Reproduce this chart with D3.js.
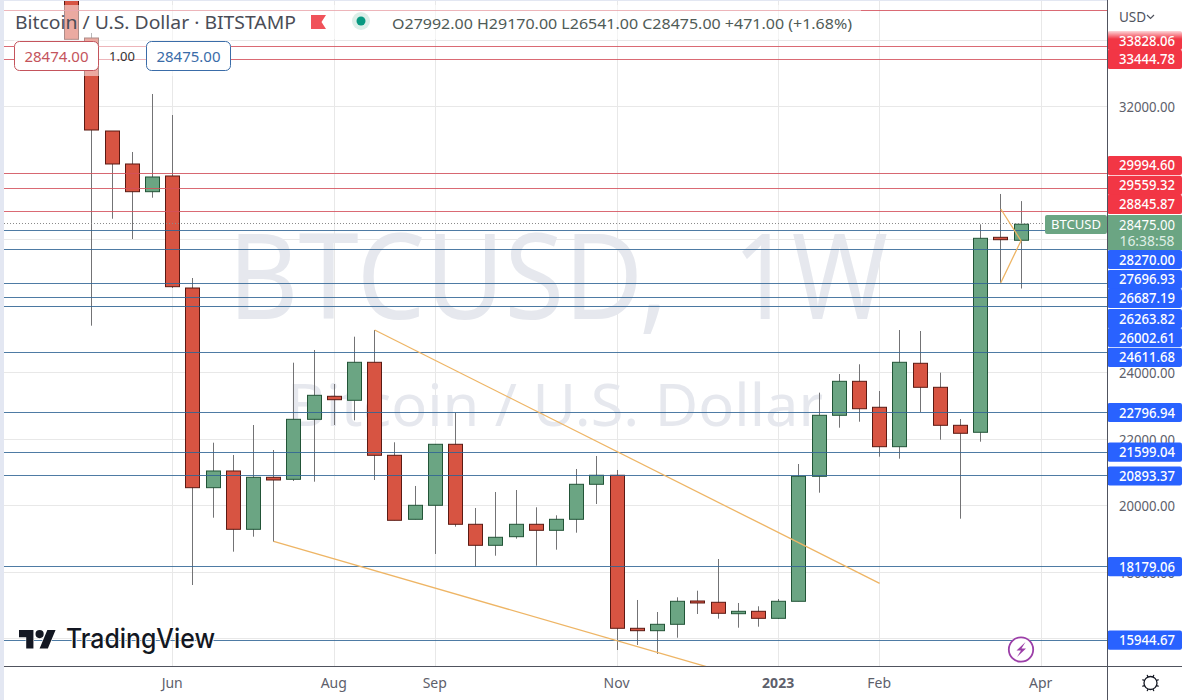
<!DOCTYPE html>
<html><head><meta charset="utf-8">
<script src="https://cdn.jsdelivr.net/npm/d3@7"></script>
<style>html,body{margin:0;padding:0;background:#fff;overflow:hidden}svg{display:block}text{font-family:"Noto Sans",sans-serif}</style>
</head><body><svg id="c" width="1182" height="700"></svg>
<script>
// weekly candles, May 2022 to Mar 2023
const opens  = [35700,34075,31278,30286,29453,29925,26556,20551,21053,19299,20863,20803,22607,23299,23179,24322,21525,19600,20021,21856,19450,18818,19077,19450,19269,19600,20653,20924,16322,16250,16442,17143,17104,16761,16833,16622,17134,20893,22728,23750,22969,21784,24292,23570,22427,22217,28081,27992];
const highs  = [36000,34226,31278,30647,32391,31759,26857,21904,21534,22436,21684,24310,24692,23669,25092,25293,21916,20602,21865,22806,19940,20421,20481,19961,19720,21113,21504,21083,17173,16812,17254,17453,18406,17083,16984,17203,21263,23408,23970,24262,23459,25293,25263,24009,22617,28472,29384,29170];
const lows   = [34036,25423,28640,28030,29272,26556,17624,19648,18626,19077,18926,20752,20731,22436,22577,20782,19570,19600,18557,19378,18175,18505,19017,18205,18686,19197,20060,15669,15820,15549,16039,16752,16611,16340,16370,16602,17134,20400,22355,22535,21483,21423,22827,21994,19618,21934,26716,26541];
const closes = [34036,31308,30286,29453,29895,26596,20551,21053,19299,20863,20782,22607,23329,23197,24322,21525,19570,20021,21856,19450,18818,19059,19450,19269,19600,20653,20924,16322,16250,16442,17134,17083,16773,16833,16622,17134,20893,22728,23750,22926,21784,24322,23570,22427,22187,28051,28009,28475];

const gridPrices = [16000,18000,20000,22000,24000,26000,28000,30000,32000,34000];
const priceTicks = [18000,20000,22000,24000,32000];
const monthIdx   = [5,13,18,27,35,40,48];
const monthNames = ["Jun","Aug","Sep","Nov","2023","Feb","Apr"];

const resistance = [33828.06,33444.78,29994.60,29559.32,28845.87];
const support    = [28270.00,27696.93,26687.19,26263.82,26002.61,24611.68,22796.94,21599.04,20893.37,18179.06,15944.67];
const untaggedResistance = [34914];
const resistanceTagShift = [-5.7,0.5,-8.2,-2.7,-7.4];
const supportTagShift    = [28.5,29.4,14.8,20.8,31.1,4.8,-0.5,-0.8,-0.3,0,-0.8];

const lastPrice = 28475, countdown = "16:38:58";
const trendIdx1 = [10,32], trendVal1 = [18938,15068];
const trendIdx2 = [15,40], trendVal2 = [25293,17675];
const wedgeIdx  = [46,47,46], wedgeVal = [28932,27979,26716];

const UP="#6ba583",DOWN="#d75442",UPB="#225437",DOWNB="#5b1a13",WICK="#737375";
const RED="#f23645",BLUE="#2962ff",LRED="#d4505c",LBLUE="#2f6494",GOLD="#eeb565";
const PL=4,PR=1107.5,PB=666.5;

const svg=d3.select("#c");
const x=d3.scaleLinear().domain([0,47]).range([71.7,1021]);
const y=d3.scaleLinear().domain([15000,35000]).range([672.25,7.25]);
const crisp=v=>Math.round(v-0.5)+0.5;
const crispY=v=>crisp(v-0.3);
const snapRed=v=>Math.floor(v+0.05)+0.5;

svg.append("rect").attr("width",1182).attr("height",700).attr("fill","#fff");
svg.append("rect").attr("width",PL).attr("height",700).attr("fill","#e3e7f2");
svg.append("rect").attr("width",1182).attr("height",1).attr("fill","#e3e7f2");
const defs=svg.append("defs");
defs.append("clipPath").attr("id","plot").append("rect").attr("x",PL).attr("y",1).attr("width",PR-PL).attr("height",PB-1);
const fade=defs.append("linearGradient").attr("id","fade").attr("x1",0).attr("x2",0).attr("y1",0).attr("y2",1);
fade.append("stop").attr("offset",0).attr("stop-color","#fff").attr("stop-opacity",1);
fade.append("stop").attr("offset",1).attr("stop-color","#fff").attr("stop-opacity",0);

const plot=svg.append("g").attr("clip-path","url(#plot)");
// grid
plot.append("g").selectAll("line").data(gridPrices).join("line")
 .attr("x1",PL).attr("x2",PR).attr("y1",d=>crispY(y(d))).attr("y2",d=>crispY(y(d))).attr("stroke","#e8e8e8");
plot.append("g").selectAll("line").data(monthIdx).join("line")
 .attr("x1",d=>crisp(x(d))).attr("x2",d=>crisp(x(d))).attr("y1",0).attr("y2",PB).attr("stroke","#e8e8e8");
// watermark
const wm=plot.append("text").attr("y",319).attr("font-size",118).attr("fill","#e6e8ee");
wm.append("tspan").attr("x",228).attr("textLength",440).attr("lengthAdjust","spacingAndGlyphs").text("BTCUSD,");
wm.append("tspan").text(" ").attr("font-size",10);
wm.append("tspan").attr("x",733).attr("textLength",155).attr("lengthAdjust","spacingAndGlyphs").text("1W");
plot.append("text").attr("x",555).attr("y",426).attr("text-anchor","middle").attr("font-size",58).attr("fill","#e6e8ee").attr("textLength",536).attr("lengthAdjust","spacingAndGlyphs").text("Bitcoin / U.S. Dollar");
// candles
const idx=d3.range(opens.length);
const cg=plot.append("g");
cg.selectAll("line").data(idx).join("line")
 .attr("x1",i=>crisp(x(i))).attr("x2",i=>crisp(x(i))).attr("y1",i=>y(highs[i])).attr("y2",i=>y(lows[i])).attr("stroke",WICK).attr("stroke-width",1);
cg.selectAll("rect").data(idx).join("rect")
 .attr("x",i=>crisp(x(i))-7).attr("width",14)
 .attr("y",i=>y(Math.max(opens[i],closes[i])))
 .attr("height",i=>Math.max(1.5,Math.abs(y(opens[i])-y(closes[i]))))
 .attr("fill",i=>closes[i]>=opens[i]?UP:DOWN)
 .attr("stroke",i=>closes[i]>=opens[i]?UPB:DOWNB).attr("stroke-width",1);
// levels
const hl=(vals,col,snap)=>plot.append("g").selectAll("line").data(vals).join("line")
 .attr("x1",PL).attr("x2",PR).attr("y1",d=>snap(y(d))).attr("y2",d=>snap(y(d))).attr("stroke",col).attr("stroke-opacity",.85);
hl(untaggedResistance,LRED,snapRed);hl(resistance,LRED,snapRed);hl(support,LBLUE,crispY);
plot.append("line").attr("x1",PL).attr("x2",1045).attr("y1",crispY(y(lastPrice))).attr("y2",crispY(y(lastPrice))).attr("stroke","#8a8a8a").attr("stroke-dasharray","1 2");
// trend lines
const ln=d3.line().x(d=>x(d[0])).y(d=>y(d[1]));
[[trendIdx1,trendVal1],[trendIdx2,trendVal2],[wedgeIdx,wedgeVal]].forEach(([a,b])=>{
 plot.append("path").attr("d",ln(d3.zip(a,b))).attr("fill","none").attr("stroke",GOLD).attr("stroke-width",1.3);
});
// legend veils
svg.append("rect").attr("x",PL).attr("y",5).attr("width",857).attr("height",34).attr("fill","#fff").attr("fill-opacity",.5);
svg.append("rect").attr("x",14).attr("y",39).attr("width",217).attr("height",37).attr("fill","#fff").attr("fill-opacity",.5);
// legend text
const T=(xx,yy,s,size,col,extra={})=>{const t=svg.append("text").attr("x",xx).attr("y",yy).attr("font-size",size).attr("fill",col).text(s);Object.entries(extra).forEach(([k,v])=>t.attr(k,v));return t;};
T(15,29,"Bitcoin / U.S. Dollar · BITSTAMP",18,"#4a4d57",{textLength:281,lengthAdjust:"spacingAndGlyphs"});
svg.append("path").attr("d","M311 15h15l-4.5 7 4.5 7h-15z").attr("fill","#f0525a");
svg.append("circle").attr("cx",361).attr("cy",21).attr("r",9).attr("fill","#dcefe9");
svg.append("circle").attr("cx",361).attr("cy",21).attr("r",4.5).attr("fill","#089981");
T(392,29,"O27992.00  H29170.00  L26541.00  C28475.00  +471.00  (+1.68%)",15,"#4f5b57",{textLength:460,lengthAdjust:"spacingAndGlyphs"});
// order box
const box=(xx,col,s)=>{svg.append("rect").attr("x",xx+.5).attr("y",41.5).attr("width",84).attr("height",29).attr("rx",5).attr("fill","#fff").attr("stroke",col);
 T(xx+42.5,61.5,s,15,col,{"text-anchor":"middle"});};
box(14,"#c4545c","28474.00");box(146,"#3a6ca8","28475.00");
T(122,61,"1.00",13,"#333",{"text-anchor":"middle"});
// logo
const logo=svg.append("g");
logo.append("path").attr("transform","translate(19,625.9) scale(1.03)").attr("d","M14 22H7V11H0V4h14v18zM28 22h-8l7.5-18h8L28 22z").attr("fill","#131722").attr("stroke","#fff").attr("stroke-width",1).attr("paint-order","stroke");
logo.append("circle").attr("cx",39.6).attr("cy",634.1).attr("r",4.1).attr("fill","#131722");
T(66,648,"TradingView",27,"#131722",{"font-weight":500,textLength:149,lengthAdjust:"spacingAndGlyphs",stroke:"#fff","stroke-width":2,"paint-order":"stroke"}).style("font-family","Inter");
// bolt
svg.append("circle").attr("cx",1021).attr("cy",649.5).attr("r",12.2).attr("fill","#fff").attr("stroke","#9c3fa8").attr("stroke-width",1.8);
svg.append("path").attr("d","M1025.5 642l-9 8.5h4.5l-4 6.5 9-8.5h-4.5z").attr("fill","#9c3fa8");
// right panel
svg.append("rect").attr("x",PR).attr("y",0).attr("width",1182-PR).attr("height",700).attr("fill","#fff");
const ya=d3.axisRight(y).tickValues(priceTicks).tickSize(0).tickPadding(0).tickFormat(d3.format(".2f"));
const yg=svg.append("g").attr("transform",`translate(1119,0)`).call(ya);
yg.select(".domain").remove();
yg.selectAll("text").attr("font-size",14).attr("fill","#5d606b").style("font-family",'"Noto Sans",sans-serif').attr("textLength",56).attr("lengthAdjust","spacingAndGlyphs").attr("dy","0.33em");
T(1119,22,"USD",13.5,"#50535e");
svg.append("path").attr("d","M1147 15l3.5 3.5 3.5-3.5").attr("fill","none").attr("stroke","#50535e").attr("stroke-width",1.2);
// tags
const tagData=[...resistance.map((v,i)=>({v,s:resistanceTagShift[i],c:RED})),...support.map((v,i)=>({v,s:supportTagShift[i],c:BLUE}))];
const tg=svg.append("g").selectAll("g").data(tagData).join("g").attr("transform",d=>`translate(${PR},${y(d.v)+d.s})`);
tg.append("rect").attr("x",0).attr("y",-9.6).attr("width",1182-PR).attr("height",19.2).attr("rx",2).attr("fill",d=>d.c);
tg.append("text").attr("x",39.5).attr("y",5).attr("text-anchor","middle").attr("font-size",14).attr("font-weight",500).attr("fill","#fff").attr("textLength",56).attr("lengthAdjust","spacingAndGlyphs").text(d=>d3.format(".2f")(d.v));
svg.append("rect").attr("x",PR).attr("y",29).attr("width",1182-PR).attr("height",10).attr("fill","url(#fade)");
// last price tag
svg.append("rect").attr("x",1045).attr("y",215).attr("width",62).attr("height",19).attr("rx",2).attr("fill",UP);
T(1076,229,"BTCUSD",13,"#fff",{"text-anchor":"middle",textLength:50,lengthAdjust:"spacingAndGlyphs"});
svg.append("rect").attr("x",PR).attr("y",215).attr("width",1182-PR).attr("height",35).attr("fill",UP);
T(1147,230,d3.format(".2f")(lastPrice),14,"#fff",{"text-anchor":"middle",textLength:56,lengthAdjust:"spacingAndGlyphs"});
T(1147,246,countdown,13.5,"#dfeee6",{"text-anchor":"middle",textLength:55,lengthAdjust:"spacingAndGlyphs"});
// time axis
svg.append("rect").attr("x",PL).attr("y",PB).attr("width",1182-PL).attr("height",700-PB).attr("fill","#fff");
const xa=d3.axisBottom(x).tickValues(monthIdx).tickSize(0).tickPadding(0).tickFormat((d,i)=>monthNames[i]);
const xg=svg.append("g").attr("transform",`translate(-1,${678})`).call(xa);
xg.select(".domain").remove();
xg.selectAll("text").attr("font-size",14).attr("fill","#5d606b").style("font-family",'"Noto Sans",sans-serif').attr("font-weight",d=>d===35?700:400).attr("dy","0.71em");
// frame lines
svg.append("line").attr("x1",PL).attr("x2",1182).attr("y1",PB).attr("y2",PB).attr("stroke","#50535e");
svg.append("line").attr("x1",PR).attr("x2",PR).attr("y1",0).attr("y2",700).attr("stroke","#50535e");
// settings icon
const g=svg.append("g").attr("transform","translate(1150.5,683)");
g.append("circle").attr("r",6.5).attr("fill","none").attr("stroke","#131722").attr("stroke-width",1.3);
g.selectAll("line").data(d3.range(8)).join("line").attr("x1",d=>6.5*Math.cos(d*Math.PI/4+Math.PI/8)).attr("y1",d=>6.5*Math.sin(d*Math.PI/4+Math.PI/8)).attr("x2",d=>8.8*Math.cos(d*Math.PI/4+Math.PI/8)).attr("y2",d=>8.8*Math.sin(d*Math.PI/4+Math.PI/8)).attr("stroke","#131722").attr("stroke-width",1.2);
</script></body></html>
